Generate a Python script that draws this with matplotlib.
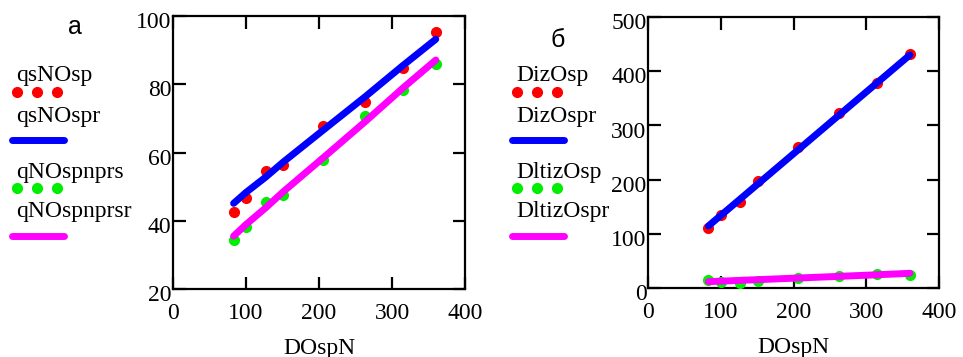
import matplotlib
matplotlib.use("Agg")
import matplotlib.pyplot as plt
from matplotlib.lines import Line2D
import matplotlib.transforms as mtransforms

# datos
dospn = [83, 100, 127, 151, 206, 263, 315, 360]

qsNOsp = [42.7, 46.8, 54.7, 56.3, 67.8, 74.9, 84.9, 95.3]
qsNOspr = [45.1, 48.3, 52.8, 57.2, 66.6, 76.3, 85.5, 93.2]
qNOspnprs = [34.5, 38.1, 45.6, 47.4, 57.7, 70.6, 78.2, 85.9]
qNOspnprsr = [35.5, 38.9, 43.8, 48.5, 58.5, 69.0, 78.9, 87.1]

DizOsp = [110, 134.7, 159, 197, 260.7, 322, 377.6, 431]
DizOspr = [114.4, 133.8, 164.5, 191.9, 254.5, 319.5, 378.7, 430.0]
DltizOsp = [14.8, 11.7, 8.6, 13.5, 19.0, 22.0, 25.8, 24.0]
DltizOspr = [11.7, 12.6, 14.1, 15.4, 18.4, 21.5, 24.4, 27.1]

serif = "Liberation Serif"
fs = 17

fig = plt.figure(figsize=(9.63, 3.57), dpi=100)


def panel(rect, puntos1, linea1, puntos2, linea2, ylim, yticks):
    ax = fig.add_axes(rect)
    ax.plot(dospn, puntos1, linestyle="none", marker="o", markersize=7,
            color="#ff0000", zorder=3)
    ax.plot(dospn, linea1, color="#0000ff", linewidth=5,
            solid_capstyle="round", zorder=4)
    ax.plot(dospn, puntos2, linestyle="none", marker="o", markersize=7,
            color="#00ee00", zorder=5)
    ax.plot(dospn, linea2, color="#ff00ff", linewidth=5,
            solid_capstyle="round", zorder=6)
    ax.set_xlim(0, 400)
    ax.set_ylim(*ylim)
    ax.set_xticks([0, 100, 200, 300, 400])
    ax.set_yticks(yticks)
    ax.tick_params(direction="in", length=9, width=1.6, top=True, right=True,
                   labelsize=fs, pad=10)
    ax.tick_params(axis="y", pad=1)
    for lbl in ax.get_xticklabels() + ax.get_yticklabels():
        lbl.set_fontfamily(serif)
    off = mtransforms.ScaledTranslation(0, -3 / 72, fig.dpi_scale_trans)
    for lbl in ax.get_yticklabels():
        lbl.set_transform(lbl.get_transform() + off)
    for s in ax.spines.values():
        s.set_linewidth(1.6)
    ax.set_xlabel("DOspN", fontfamily=serif, fontsize=fs, labelpad=10)
    return ax


panel([173 / 963, 68 / 357, 292 / 963, 273 / 357],
      qsNOsp, qsNOspr, qNOspnprs, qNOspnprsr, (20, 100), [20, 40, 60, 80, 100])
panel([648 / 963, 69 / 357, 291 / 963, 271 / 357],
      DizOsp, DizOspr, DltizOsp, DltizOspr, (0, 500), [0, 100, 200, 300, 400, 500])


def px(x, y):
    return x / 963, 1 - y / 357


def leyenda(x0, nombres, dots_x, line_x):
    filas = [75, 117, 172, 212]
    for nombre, y in zip(nombres, filas):
        fig.text(*px(x0, y), nombre, fontfamily=serif, fontsize=fs, va="center")
    for color, y in [("#ff0000", 92), ("#00ee00", 188)]:
        fig.add_artist(Line2D([dots_x[0] / 963, dots_x[1] / 963, dots_x[2] / 963],
                              [1 - y / 357] * 3, linestyle="none", marker="o",
                              markersize=7, color=color, transform=fig.transFigure))
    for color, y in [("#0000ff", 140), ("#ff00ff", 236)]:
        fig.add_artist(Line2D([line_x[0] / 963, line_x[1] / 963], [1 - y / 357] * 2,
                              color=color, linewidth=5, solid_capstyle="round",
                              transform=fig.transFigure))


leyenda(16, ["qsNOsp", "qsNOspr", "qNOspnprs", "qNOspnprsr"],
        [17, 37, 57], [12, 64])
leyenda(516, ["DizOsp", "DizOspr", "DltizOsp", "DltizOspr"],
        [517, 537, 557], [512, 564])

fig.text(*px(75, 27), "а", fontfamily="Liberation Sans", fontsize=18,
         ha="center", va="center")
fig.text(*px(558, 40), "б", fontfamily="Liberation Sans", fontsize=18,
         ha="center", va="center")

fig.savefig("out.png", dpi=100)
